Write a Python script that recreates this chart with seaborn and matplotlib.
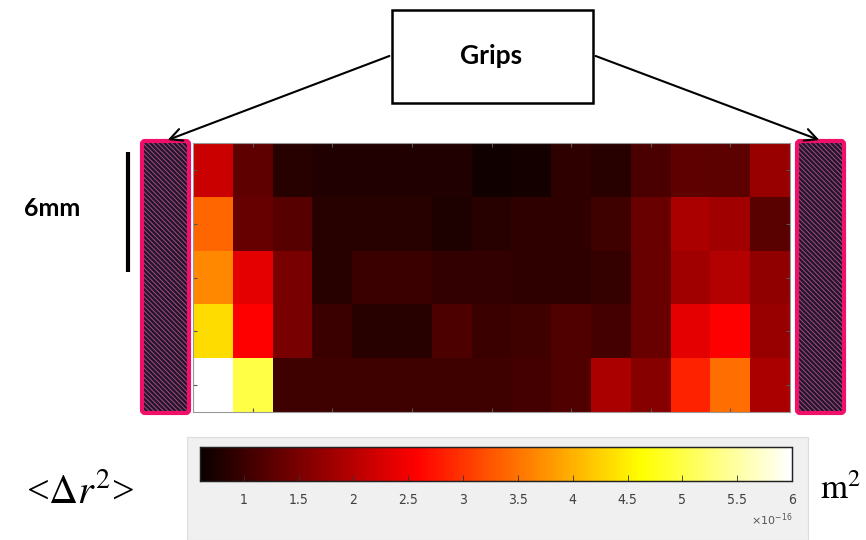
import numpy as np
import pandas as pd
import matplotlib.pyplot as plt
import matplotlib.patches as mpatches
import seaborn as sns

# mean squared displacement per cell, in units of 1e-16 m^2 (rows top -> bottom)
row1 = [2.16, 1.29, 0.84, 0.77, 0.77, 0.77, 0.77, 0.65, 0.70, 0.90, 0.84, 1.11, 1.29, 1.27, 1.74]
row2 = [3.39, 1.34, 1.22, 0.84, 0.84, 0.84, 0.75, 0.84, 0.90, 0.90, 1.03, 1.37, 1.89, 1.81, 1.24]
row3 = [3.66, 2.37, 1.50, 0.84, 0.98, 0.98, 0.93, 0.92, 0.90, 0.90, 0.95, 1.37, 1.81, 1.97, 1.68]
row4 = [4.35, 2.57, 1.49, 1.00, 0.84, 0.84, 1.14, 1.00, 1.03, 1.17, 1.08, 1.37, 2.37, 2.57, 1.74]
row5 = [6.00, 5.00, 1.03, 1.03, 1.03, 1.03, 1.03, 1.03, 1.08, 1.17, 1.89, 1.61, 2.85, 3.46, 1.89]

cbar_ticks = [1, 1.5, 2, 2.5, 3, 3.5, 4, 4.5, 5, 5.5, 6]
cbar_labels = ["1", "1.5", "2", "2.5", "3", "3.5", "4", "4.5", "5", "5.5", "6"]
vmin, vmax = 0.6, 6.0

df = pd.DataFrame([row1, row2, row3, row4, row5])

plt.rcParams["hatch.linewidth"] = 0.7

W, H = 866, 540
fig = plt.figure(figsize=(W / 100, H / 100), dpi=100)


def px(x0, y0, x1, y1):
    return [x0 / W, 1 - y1 / H, (x1 - x0) / W, (y1 - y0) / H]


# grey panel behind the colorbar
fig.add_artist(mpatches.Rectangle((187 / W, 0), 621 / W, 103 / H, transform=fig.transFigure,
                                  facecolor="#F0F0F0", edgecolor="#DCDCDC", lw=0.8, zorder=0))

ax = fig.add_axes(px(193, 143, 790, 412))
cax = fig.add_axes(px(200, 447, 792, 481))

sns.heatmap(df, cmap="hot", vmin=vmin, vmax=vmax, ax=ax, cbar_ax=cax,
            xticklabels=False, yticklabels=False,
            cbar_kws={"orientation": "horizontal", "ticks": cbar_ticks})

ax.set_xticks(np.arange(1, 15, 2) + 0.5)
ax.set_yticks(np.arange(5) + 0.5)
ax.tick_params(direction="in", length=3, color="#555555", top=True, right=True,
               labelbottom=False, labelleft=False)
for s in ax.spines.values():
    s.set_visible(True)
    s.set_color("#999999")
    s.set_linewidth(0.8)

cax.set_xticklabels(cbar_labels)
cax.tick_params(direction="in", length=4, width=0.6, color="#333333", pad=9,
                labelsize=10, labelcolor="#404040")
for lab in cax.get_xticklabels():
    lab.set_family(["Liberation Sans Narrow", "DejaVu Sans"])
    lab.set_stretch("condensed")
for s in cax.spines.values():
    s.set_visible(True)
    s.set_color("#222222")
    s.set_linewidth(0.9)
cax.text(1.0, -1.15, r"$\times10^{-16}$", transform=cax.transAxes, ha="right", va="center",
         fontsize=8, color="#555555", math_fontfamily="dejavusans")

# overlay in pixel coordinates for the annotations
ov = fig.add_axes([0, 0, 1, 1], zorder=5)
ov.set_xlim(0, W)
ov.set_ylim(H, 0)
ov.axis("off")

# hatched grips
for gx0, gx1 in [(142, 189), (797, 844)]:
    ov.add_patch(mpatches.Rectangle((gx0, 141), gx1 - gx0, 272, facecolor="#22162C",
                                    edgecolor="#A84A80", lw=0, hatch="\\" * 7))
    ov.add_patch(mpatches.FancyBboxPatch((gx0, 141), gx1 - gx0, 272,
                                         boxstyle="round,pad=0,rounding_size=3",
                                         facecolor="none", edgecolor="#F0106A", lw=3))

# Grips label box and arrows
ov.add_patch(mpatches.Rectangle((392, 10), 201, 93, facecolor="white", edgecolor="black", lw=1.8))
ov.text(491, 56, "Grips", ha="center", va="center", fontsize=19, fontweight="bold",
        family=["Lato", "DejaVu Sans"])
ov.annotate("", xy=(165, 141), xytext=(392, 55),
            arrowprops=dict(arrowstyle="->", lw=1.5, color="black", mutation_scale=22))
ov.annotate("", xy=(822, 141), xytext=(593, 55),
            arrowprops=dict(arrowstyle="->", lw=1.5, color="black", mutation_scale=22))

# scale bar
ov.plot([128, 128], [152, 272], color="black", lw=3, solid_capstyle="butt")
ov.text(52, 208, "6mm", ha="center", va="center", fontsize=18, fontweight="bold",
        family=["Lato", "DejaVu Sans"])

# colorbar quantity and unit
ov.text(80, 493, r"<$\Delta r^2$>", ha="center", va="center", fontsize=29,
        family=["Liberation Serif"], math_fontfamily="stix")
ov.text(841, 489, r"$\mathrm{m}^2$", ha="center", va="center", fontsize=25,
        math_fontfamily="stix")

fig.savefig("out.png", dpi=100, facecolor="white")
